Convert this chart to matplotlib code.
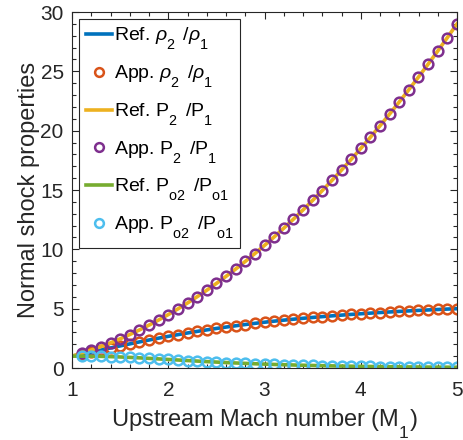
import matplotlib
matplotlib.use("Agg")
import matplotlib.pyplot as plt
from matplotlib.ticker import MultipleLocator

plt.rcParams['font.family'] = ['Liberation Sans', 'DejaVu Sans']
plt.rcParams['mathtext.fontset'] = 'custom'
plt.rcParams['mathtext.rm'] = 'Liberation Sans'
plt.rcParams['mathtext.it'] = 'Liberation Sans:italic'
plt.rcParams['mathtext.bf'] = 'Liberation Sans:bold'

# MATLAB-like (deeper) subscripts
try:
    import matplotlib._mathtext as _mt
    for _name in dir(_mt):
        _obj = getattr(_mt, _name)
        if isinstance(_obj, type) and issubclass(_obj, _mt.FontConstantsBase):
            _obj.sub1 = 0.95
    _mt.SHRINK_FACTOR = 0.74
except Exception:
    pass

# Data
mach = [1.0, 1.1, 1.2, 1.3, 1.4, 1.5, 1.6, 1.7, 1.8, 1.9,
        2.0, 2.1, 2.2, 2.3, 2.4, 2.5, 2.6, 2.7, 2.8, 2.9,
        3.0, 3.1, 3.2, 3.3, 3.4, 3.5, 3.6, 3.7, 3.8, 3.9,
        4.0, 4.1, 4.2, 4.3, 4.4, 4.5, 4.6, 4.7, 4.8, 4.9, 5.0]
rho_ratio = [1.000, 1.169, 1.342, 1.516, 1.690, 1.862, 2.032, 2.198, 2.359, 2.516,
             2.667, 2.812, 2.951, 3.085, 3.212, 3.333, 3.449, 3.559, 3.664, 3.763,
             3.857, 3.947, 4.032, 4.112, 4.188, 4.261, 4.330, 4.395, 4.457, 4.516,
             4.571, 4.625, 4.675, 4.723, 4.769, 4.812, 4.853, 4.893, 4.930, 4.966, 5.000]
p_ratio = [1.000, 1.245, 1.513, 1.805, 2.120, 2.458, 2.820, 3.205, 3.613, 4.045,
           4.500, 4.978, 5.480, 6.005, 6.553, 7.125, 7.720, 8.338, 8.980, 9.645,
           10.333, 11.045, 11.780, 12.538, 13.320, 14.125, 14.953, 15.805, 16.680, 17.578,
           18.500, 19.445, 20.413, 21.405, 22.420, 23.458, 24.520, 25.605, 26.713, 27.845, 29.000]
po_ratio = [1.0000, 0.9989, 0.9928, 0.9794, 0.9582, 0.9298, 0.8952, 0.8557, 0.8127, 0.7674,
            0.7209, 0.6742, 0.6281, 0.5833, 0.5401, 0.4990, 0.4601, 0.4236, 0.3895, 0.3577,
            0.3283, 0.3012, 0.2762, 0.2533, 0.2322, 0.2129, 0.1953, 0.1792, 0.1645, 0.1510,
            0.1388, 0.1276, 0.1173, 0.1080, 0.0995, 0.0917, 0.0846, 0.0781, 0.0721, 0.0667, 0.0617]

app_mach = mach[1:]
app_rho = rho_ratio[1:]
app_p = p_ratio[1:]
app_po = po_ratio[1:]

c_blue = '#0072BD'
c_orange = '#D95319'
c_yellow = '#EDB120'
c_purple = '#7E2F8E'
c_green = '#77AC30'
c_cyan = '#4DBEEE'
dark = '#262626'

fig = plt.figure(figsize=(4.63, 4.40), dpi=100)
ax = fig.add_axes([72/463, 72/440, 385/463, 356/440])

lw = 2.6
ms = 7
mew = 1.8
ax.plot(mach, rho_ratio, '-', color=c_blue, lw=lw, label=r'Ref. $\rho_2\,$ /$\rho_1$')
ax.plot(app_mach, app_rho, 'o', mfc='none', mec=c_orange, ms=ms, mew=mew, label=r'App. $\rho_2\,$ /$\rho_1$')
ax.plot(mach, p_ratio, '-', color=c_yellow, lw=lw, label=r'Ref. P$_2\,$ /P$_1$')
ax.plot(app_mach, app_p, 'o', mfc='none', mec=c_purple, ms=ms, mew=mew, label=r'App. P$_2\,$ /P$_1$')
ax.plot(mach, po_ratio, '-', color=c_green, lw=lw, label=r'Ref. P$_{\mathrm{o2}}\,$ /P$_{\mathrm{o1}}$')
ax.plot(app_mach, app_po, 'o', mfc='none', mec=c_cyan, ms=ms, mew=mew, label=r'App. P$_{\mathrm{o2}}\,$ /P$_{\mathrm{o1}}$')

ax.set_xlim(1, 5)
ax.set_ylim(0, 30)
ax.xaxis.set_major_locator(MultipleLocator(1))
ax.xaxis.set_minor_locator(MultipleLocator(0.2))
ax.yaxis.set_major_locator(MultipleLocator(5))
ax.yaxis.set_minor_locator(MultipleLocator(1))
ax.tick_params(which='both', direction='in', top=True, right=True, colors=dark,
               labelsize=15, width=0.8)
ax.tick_params(axis='x', which='major', length=5, pad=9)
ax.tick_params(axis='y', which='major', length=5, pad=6)
ax.tick_params(which='minor', length=3)
for s in ax.spines.values():
    s.set_color(dark)
    s.set_linewidth(0.8)

ax.set_xlabel(r'Upstream Mach number (M$_1$)', fontsize=17, color=dark, labelpad=6)
ax.set_ylabel('Normal shock properties', fontsize=17, color=dark, labelpad=0)

leg = ax.legend(loc='upper left', fontsize=14, frameon=True, fancybox=False,
                edgecolor=dark, framealpha=1, handlelength=1.35,
                handletextpad=0.12, labelspacing=0.58, borderpad=0.33,
                borderaxespad=0.38, markerscale=0.9)
leg.get_frame().set_linewidth(0.8)

fig.savefig('out.png', dpi=100)
